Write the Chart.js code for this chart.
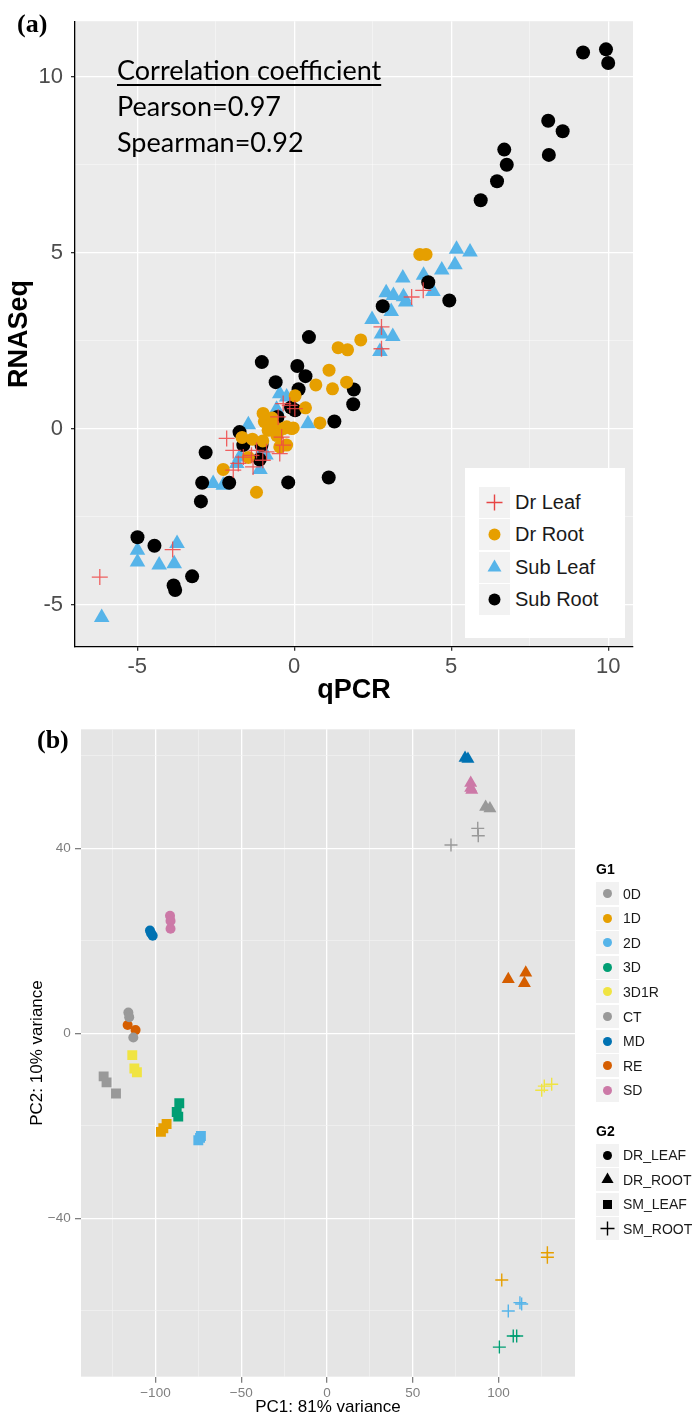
<!DOCTYPE html>
<html>
<head>
<meta charset="utf-8">
<script src="https://cdn.jsdelivr.net/npm/chart.js@4.4.0/dist/chart.umd.min.js"></script>
<style>
  body { margin: 0; background: #fff; }
  #page { position: relative; width: 694px; height: 1420px; overflow: hidden; font-family: "Liberation Sans", Arial, sans-serif; }
  canvas { position: absolute; left: 0; }
  .tag { position: absolute; font-family: "Liberation Serif", "Times New Roman", serif; font-weight: bold; font-size: 26px; line-height: 26px; }
  #note { position: absolute; left: 117px; top: 52px; font-family: Lato, "Open Sans", sans-serif; font-size: 27px; line-height: 36px; color: #000; }
  #note .head { text-decoration: underline; text-decoration-thickness: 2px; text-underline-offset: 4px; }
  #legA { position: absolute; left: 465px; top: 468px; width: 160px; height: 170px; background: #fff; }
  .row { position: absolute; display: flex; align-items: center; }
  .key { background: #f2f2f2; display: flex; align-items: center; justify-content: center; }
  #legA .row { left: 14px; font-size: 20px; color: #1a1a1a; }
  #legA .key { width: 31px; height: 31px; margin-right: 5px; }
  #legB { position: absolute; left: 596px; top: 0; }
  #legB .ttl { position: absolute; left: 0; font-size: 14px; font-weight: bold; color: #000; }
  #legB .row { left: 0; font-size: 14px; color: #1a1a1a; }
  #legB .key { width: 23px; height: 23px; margin-right: 4px; }
</style>
</head>
<body>
<div id="page">
  <canvas id="chartA" width="694" height="710" style="top:0"></canvas>
  <canvas id="chartB" width="694" height="720" style="top:700px"></canvas>
  <div class="tag" style="left:17px; top:11px">(a)</div>
  <div class="tag" style="left:37px; top:727px">(b)</div>
  <div id="note">
    <div class="head">Correlation coefficient</div>
    <div>Pearson=0.97</div>
    <div>Spearman=0.92</div>
  </div>
  <div id="legA"></div>
  <div id="legB"></div>
</div>
<script>
// ---- panel (a): qPCR vs RNASeq (log2 fold change) ----
const drLeaf = [[3.74, 3.74], [4.11, 3.93], [2.78, 2.89], [2.78, 2.27], [-6.19, -4.22], [-3.87, -3.44],
  [-0.35, 0.71], [-0.14, 0.66], [0.02, 0.57], [-0.51, 0.33], [-2.15, -0.28], [-1.94, -0.62], [-1.2, -0.62],
  [-0.88, -0.66], [-1.36, -0.76], [-0.46, -0.71], [-1.78, -0.99], [-1.62, -0.81], [-1.31, -1.09],
  [-1.94, -1.18], [-0.35, -0.47], [-0.4, -0.24], [-1.0, -0.9]];
const drRoot = [[4.0, 4.95], [4.2, 4.95], [2.12, 2.52], [1.4, 2.3], [1.7, 2.24], [1.11, 1.66], [0.69, 1.24],
  [1.22, 1.13], [1.67, 1.32], [0.03, 0.93], [0.36, 0.59], [0.82, 0.16], [-0.03, 0.02], [-0.24, 0.05],
  [-0.99, 0.43], [-0.95, 0.2], [-0.67, 0.12], [-0.83, -0.05], [-0.35, 0.0], [-0.08, 0.0], [-1.66, -0.25],
  [-1.33, -0.3], [-0.46, -0.52], [-0.24, -0.47], [-1.46, -0.82], [-2.26, -1.16], [-1.2, -1.81],
  [-0.7, 0.3], [-0.55, -0.2], [-1.0, -0.35]];
const subLeaf = [[5.17, 5.1], [5.6, 5.02], [5.12, 4.66], [4.7, 4.51], [4.12, 4.36], [3.46, 4.28], [4.42, 3.9],
  [3.48, 3.75], [2.93, 3.86], [3.16, 3.78], [3.55, 3.6], [3.09, 3.33], [2.48, 3.1], [2.78, 2.69], [3.14, 2.62],
  [2.73, 2.19], [-0.46, 0.99], [-0.24, 0.9], [-0.56, 0.55], [0.44, 0.14], [-1.46, 0.11], [-1.73, -0.81],
  [-1.09, -1.16], [-1.83, -0.99], [-2.58, -1.56], [-2.26, -1.61], [-4.99, -3.46], [-4.99, -3.79],
  [-4.3, -3.88], [-3.82, -3.84], [-3.73, -3.27], [-6.13, -5.37], [-1.0, -0.6], [-0.9, -0.75]];
const subRoot = [[9.2, 10.69], [9.93, 10.78], [10.0, 10.39], [8.09, 8.75], [8.55, 8.45], [8.11, 7.78],
  [6.69, 7.93], [6.77, 7.5], [6.46, 7.03], [5.94, 6.49], [4.27, 4.16], [4.94, 3.64], [2.82, 3.48], [0.47, 2.6],
  [-1.03, 1.89], [0.1, 1.78], [0.36, 1.49], [-0.59, 1.32], [0.14, 1.12], [1.9, 1.11], [1.88, 0.69],
  [0.03, 0.52], [-0.1, 0.6], [-0.53, 0.33], [1.28, 0.2], [-1.74, -0.1], [-1.62, -0.47], [-1.04, -0.47],
  [-2.82, -0.68], [-1.1, -0.88], [-2.93, -1.54], [-2.07, -1.54], [-0.19, -1.53], [1.1, -1.39],
  [-2.97, -2.07], [-4.99, -3.09], [-4.45, -3.33], [-3.25, -4.2], [-3.84, -4.46], [-3.79, -4.59]];
const qpcrTicks = [-5, -2.5, 0, 2.5, 5, 7.5, 10];
const rnaTicks = [-5, -2.5, 0, 2.5, 5, 7.5, 10];
const aLabelled = [-5, 0, 5, 10];
const legendA = ['Dr Leaf', 'Dr Root', 'Sub Leaf', 'Sub Root'];

// ---- panel (b): PCA ----
const mdLeaf = [[-103.2, 22.2], [-101.6, 21.1], [-102.5, 21.6]];
const sdLeaf = [[-91.5, 25.4], [-91.2, 24.3], [-91.2, 22.6]];
const ctLeaf = [[-115.8, 4.5], [-115.3, 3.5], [-112.9, -0.9]];
const reLeaf = [[-116.2, 1.8], [-111.6, 0.7]];
const mdRoot = [[80.5, 59.5], [82.2, 59.3]];
const sdRoot = [[83.8, 54.1], [83.8, 53.0], [84.4, 52.6]];
const ctRoot = [[92.5, 48.9], [95.0, 48.6]];
const reRoot = [[105.7, 11.7], [115.9, 13.1], [115.1, 10.8]];
const d0Leaf = [[-130.2, -9.3], [-128.5, -10.6], [-123.0, -13.0]];
const d1Leaf = [[-93.5, -19.6], [-95.4, -20.5], [-96.8, -21.3]];
const d2Leaf = [[-73.5, -22.2], [-74.0, -22.6], [-75.0, -23.1]];
const d3Leaf = [[-86.1, -15.1], [-87.6, -17.0], [-86.7, -18.0]];
const d3r1Leaf = [[-113.5, -4.7], [-112.3, -7.6], [-110.8, -8.4]];
const d0Root = [[87.9, 44.3], [88.2, 42.7], [72.3, 40.7]];
const d1Root = [[128.5, -47.4], [128.5, -48.4], [101.9, -53.3]];
const d2Root = [[112.5, -58.2], [113.5, -58.5], [105.7, -60.0]];
const d3Root = [[108.6, -65.4], [110.6, -65.4], [100.5, -67.8]];
const d3r1Root = [[125.2, -12.3], [126.7, -11.4], [131.0, -11.0]];
const g1Labels = ['0D', '1D', '2D', '3D', '3D1R', 'CT', 'MD', 'RE', 'SD'];
const g1Colors = ['#999999', '#E69F00', '#56B4E9', '#009E73', '#F0E442', '#999999', '#0072B2', '#D55E00', '#CC79A7'];
const g2Labels = ['DR_LEAF', 'DR_ROOT', 'SM_LEAF', 'SM_ROOT'];
const pcXTicks = [-125, -100, -75, -50, -25, 0, 25, 50, 75, 100, 125];
const pcYTicks = [-60, -40, -20, 0, 20, 40, 60];
const pcXLabelled = [-100, -50, 0, 50, 100];
const pcYLabelled = [-40, 0, 40];

Chart.defaults.font.family = '"Liberation Sans", Arial, sans-serif';

const toXY = arr => arr.map(p => ({ x: p[0], y: p[1] }));
const setTicks = vals => scale => { scale.ticks = vals.map(v => ({ value: v })); };

// grey panel behind the plot area, like ggplot
const panelBg = {
  id: 'panelBg',
  beforeDraw(chart, args, opts) {
    const { ctx, chartArea: a } = chart;
    ctx.save();
    ctx.fillStyle = opts.color;
    ctx.fillRect(a.left, a.top, a.right - a.left, a.bottom - a.top);
    ctx.restore();
  }
};

function gridOpts(labelled, major, minor, tickColor, tickLength) {
  return {
    color: c => labelled.includes(c.tick && c.tick.value) ? major : minor,
    lineWidth: c => labelled.includes(c.tick && c.tick.value) ? 1.3 : 0.7,
    tickColor: c => labelled.includes(c.tick && c.tick.value) ? tickColor : 'rgba(0,0,0,0)',
    tickLength: tickLength,
    drawTicks: true
  };
}

new Chart(document.getElementById('chartA'), {
  type: 'scatter',
  data: {
    datasets: [
      { label: 'Dr Leaf', data: toXY(drLeaf), pointStyle: 'cross', pointRadius: 8,
        pointBorderColor: 'rgba(240,70,70,0.85)', pointBorderWidth: 1.3 },
      { label: 'Dr Root', data: toXY(drRoot), pointStyle: 'circle', pointRadius: 6.5,
        pointBackgroundColor: '#E69F00', pointBorderWidth: 0 },
      { label: 'Sub Root', data: toXY(subRoot), pointStyle: 'circle', pointRadius: 7,
        pointBackgroundColor: '#000000', pointBorderWidth: 0 },
      { label: 'Sub Leaf', data: toXY(subLeaf), pointStyle: 'triangle', pointRadius: 9,
        pointBackgroundColor: '#56B4E9', pointBorderWidth: 0 }
    ]
  },
  options: {
    responsive: false,
    animation: false,
    events: [],
    layout: { padding: { top: 20.7, right: 61, bottom: 0, left: 0 } },
    plugins: { legend: { display: false }, tooltip: { enabled: false }, panelBg: { color: '#EBEBEB' } },
    scales: {
      x: {
        type: 'linear', min: -6.98, max: 10.79,
        afterBuildTicks: setTicks(qpcrTicks),
        afterFit: s => { s.height = 63.3; },
        ticks: { autoSkip: false, maxRotation: 0, padding: 3, color: '#4D4D4D', font: { size: 22 },
          callback: v => aLabelled.includes(v) ? String(v) : '' },
        grid: gridOpts(aLabelled, '#FFFFFF', 'rgba(255,255,255,0.6)', '#333333', 4),
        border: { display: true, color: '#000000', width: 1.3 },
        title: { display: true, text: 'qPCR', color: '#000', font: { size: 27, weight: 'bold' }, padding: { top: 0, bottom: 3 } }
      },
      y: {
        type: 'linear', min: -6.2, max: 11.58,
        afterBuildTicks: setTicks(rnaTicks),
        afterFit: s => { s.width = 75; },
        ticks: { autoSkip: false, padding: 8, color: '#4D4D4D', font: { size: 22 },
          callback: v => aLabelled.includes(v) ? String(v) : '' },
        grid: gridOpts(aLabelled, '#FFFFFF', 'rgba(255,255,255,0.6)', '#333333', 4),
        border: { display: true, color: '#000000', width: 1.3 },
        title: { display: true, text: 'RNASeq', color: '#000', font: { size: 27, weight: 'bold' }, padding: { top: 3, bottom: 0 } }
      }
    }
  },
  plugins: [panelBg]
});

// PCA datasets: G1 colour x G2 shape
const g2Style = {
  DR_LEAF: { shape: 'circle', r: 5 },
  DR_ROOT: { shape: 'triangle', r: 7.5 },
  SM_LEAF: { shape: 'rect', r: 7 },
  SM_ROOT: { shape: 'cross', r: 6.5 }
};
const pcaSets = [
  [mdLeaf, 'MD', 'DR_LEAF'], [sdLeaf, 'SD', 'DR_LEAF'], [ctLeaf, 'CT', 'DR_LEAF'], [reLeaf, 'RE', 'DR_LEAF'],
  [mdRoot, 'MD', 'DR_ROOT'], [sdRoot, 'SD', 'DR_ROOT'], [ctRoot, 'CT', 'DR_ROOT'], [reRoot, 'RE', 'DR_ROOT'],
  [d0Leaf, '0D', 'SM_LEAF'], [d1Leaf, '1D', 'SM_LEAF'], [d2Leaf, '2D', 'SM_LEAF'], [d3Leaf, '3D', 'SM_LEAF'], [d3r1Leaf, '3D1R', 'SM_LEAF'],
  [d0Root, '0D', 'SM_ROOT'], [d1Root, '1D', 'SM_ROOT'], [d2Root, '2D', 'SM_ROOT'], [d3Root, '3D', 'SM_ROOT'], [d3r1Root, '3D1R', 'SM_ROOT']
];

const minusFmt = v => v < 0 ? '\u2212' + Math.abs(v) : String(v);

new Chart(document.getElementById('chartB'), {
  type: 'scatter',
  data: {
    datasets: pcaSets.map(([pts, g1, g2]) => {
      const col = g1Colors[g1Labels.indexOf(g1)];
      const st = g2Style[g2];
      const isCross = st.shape === 'cross';
      return {
        label: g1 + ' ' + g2, data: toXY(pts), pointStyle: st.shape, pointRadius: st.r,
        pointBackgroundColor: col, pointBorderColor: col, pointBorderWidth: isCross ? 1.4 : 0
      };
    })
  },
  options: {
    responsive: false,
    animation: false,
    events: [],
    layout: { padding: { top: 29.3, right: 119, bottom: 0, left: 0 } },
    plugins: { legend: { display: false }, tooltip: { enabled: false }, panelBg: { color: '#E5E5E5' } },
    scales: {
      x: {
        type: 'linear', min: -143.4, max: 144.6,
        afterBuildTicks: setTicks(pcXTicks),
        afterFit: s => { s.height = 43.3; },
        ticks: { autoSkip: false, maxRotation: 0, padding: 2.5, color: '#7F7F7F', font: { size: 13.5 },
          callback: v => pcXLabelled.includes(v) ? minusFmt(v) : '' },
        grid: gridOpts(pcXLabelled, '#FFFFFF', '#F2F2F2', '#7F7F7F', 6),
        border: { display: false },
        title: { display: true, text: 'PC1: 81% variance', color: '#000', font: { size: 17 }, padding: { top: 0, bottom: 2 } }
      },
      y: {
        type: 'linear', min: -74.2, max: 65.7,
        afterBuildTicks: setTicks(pcYTicks),
        afterFit: s => { s.width = 81; },
        ticks: { autoSkip: false, padding: 4.3, color: '#7F7F7F', font: { size: 13.5 },
          callback: v => pcYLabelled.includes(v) ? minusFmt(v) : '' },
        grid: gridOpts(pcYLabelled, '#FFFFFF', '#F2F2F2', '#7F7F7F', 6),
        border: { display: false },
        title: { display: true, text: 'PC2: 10% variance', color: '#000', font: { size: 17 }, padding: { top: 27, bottom: 0 } }
      }
    }
  },
  plugins: [panelBg]
});

// ---- legends (HTML) ----
function keySvg(shape, color, size, r) {
  const c = size / 2;
  let body = '';
  if (shape === 'circle') body = `<circle cx="${c}" cy="${c}" r="${r}" fill="${color}"/>`;
  if (shape === 'rect') body = `<rect x="${c - r}" y="${c - r}" width="${2 * r}" height="${2 * r}" fill="${color}"/>`;
  if (shape === 'triangle') {
    const h = r * 0.87;
    body = `<polygon points="${c},${c - r} ${c + h},${c + r / 2} ${c - h},${c + r / 2}" fill="${color}"/>`;
  }
  if (shape === 'cross') body = `<path d="M${c - r} ${c}H${c + r}M${c} ${c - r}V${c + r}" stroke="${color}" stroke-width="1.4" fill="none"/>`;
  return `<svg width="${size}" height="${size}">${body}</svg>`;
}

const legA = document.getElementById('legA');
const legAKeys = [['cross', 'rgba(230,50,50,0.9)', 8], ['circle', '#E69F00', 6], ['triangle', '#56B4E9', 8], ['circle', '#000000', 6]];
legendA.forEach((name, i) => {
  const row = document.createElement('div');
  row.className = 'row';
  row.style.top = (18.7 + i * 32.5) + 'px';
  const [shape, col, r] = legAKeys[i];
  row.innerHTML = `<div class="key">${keySvg(shape, col, 31, r)}</div><span>${name}</span>`;
  legA.appendChild(row);
});

const legB = document.getElementById('legB');
function addTitle(text, cy) {
  const t = document.createElement('div');
  t.className = 'ttl';
  t.textContent = text;
  t.style.top = (cy - 9) + 'px';
  legB.appendChild(t);
}
function addRow(html, name, cy) {
  const row = document.createElement('div');
  row.className = 'row';
  row.style.top = (cy - 11.5) + 'px';
  row.innerHTML = `<div class="key">${html}</div><span>${name}</span>`;
  legB.appendChild(row);
}
addTitle('G1', 870);
g1Labels.forEach((name, i) => addRow(keySvg('circle', g1Colors[i], 23, 4.5), name, 893.5 + i * 24.6));
const g2Shapes = [['circle', 4.5], ['triangle', 7], ['rect', 4.5], ['cross', 7]];
addTitle('G2', 1131.7);
g2Labels.forEach((name, i) => addRow(keySvg(g2Shapes[i][0], '#000', 23, g2Shapes[i][1]), name, 1155 + i * 24.6));
</script>
</body>
</html>
